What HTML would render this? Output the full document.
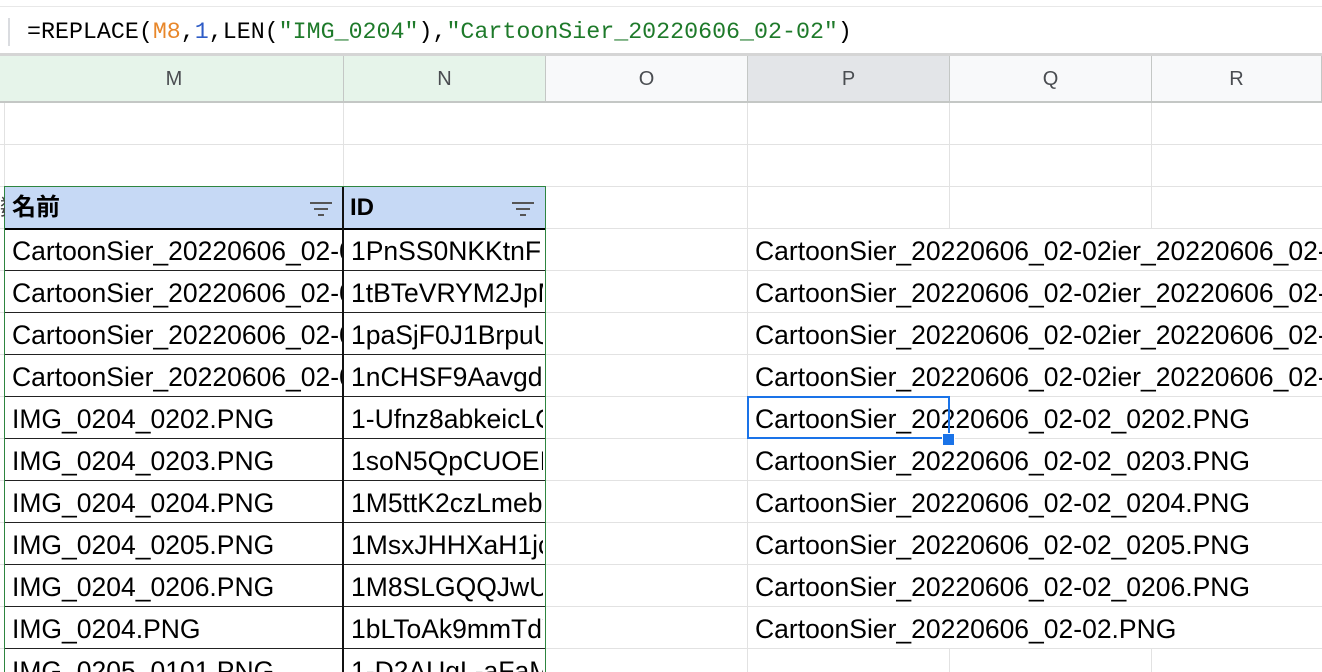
<!DOCTYPE html>
<html><head><meta charset="utf-8"><style>
html,body{margin:0;width:1322px;height:672px;overflow:hidden}
body{background:#fff;position:relative;font-family:"Liberation Sans","Noto Sans CJK JP",sans-serif}
.a{position:absolute}
.h{position:absolute;left:0;width:1322px;height:1px;background:#e2e2e2}
.v{position:absolute;width:1px;background:#e2e2e2}
.t{position:absolute;height:42px;line-height:44px;font-size:26.5px;color:#000;white-space:nowrap;overflow:hidden}
.ch{position:absolute;top:56px;height:46px;line-height:46px;text-align:center;font-size:20px;color:#4a4d51;border-right:1px solid #c4c7c5;box-sizing:border-box}
</style></head><body>
<div class="a" style="left:0;top:6px;width:1322px;height:1px;background:#e8e8e8"></div>
<div class="a" style="left:8px;top:18px;width:2px;height:28px;background:#dadce0"></div>
<div class="a" style="left:27px;top:14px;font-family:'Liberation Mono',monospace;font-size:23.3px;line-height:36px;color:#000;white-space:nowrap">=REPLACE(<span style="color:#e8872a">M8</span>,<span style="color:#2e5cc6">1</span>,LEN(<span style="color:#1e7a2a">"IMG_0204"</span>),<span style="color:#1e7a2a">"CartoonSier_20220606_02-02"</span>)</div>
<div class="a" style="left:0;top:53px;width:1322px;height:3px;background:#d5d5d5"></div>
<div class="ch" style="left:5px;width:339px;background:#e6f4ea">M</div>
<div class="ch" style="left:344px;width:202px;background:#e6f4ea">N</div>
<div class="ch" style="left:546px;width:202px;background:#f8f9fa">O</div>
<div class="ch" style="left:748px;width:202px;background:#e3e5e8">P</div>
<div class="ch" style="left:950px;width:202px;background:#f8f9fa">Q</div>
<div class="ch" style="left:1152px;width:170px;background:#f8f9fa">R</div>
<div class="a" style="left:0;top:56px;width:5px;height:46px;background:#e6f4ea"></div>
<div class="a" style="left:0;top:101px;width:1322px;height:2px;background:#c4c7c5"></div>
<div class="h" style="top:144px"></div><div class="h" style="top:186px"></div><div class="h" style="top:228px"></div>
<div class="h" style="top:270px"></div><div class="h" style="top:312px"></div><div class="h" style="top:354px"></div>
<div class="h" style="top:396px"></div><div class="h" style="top:438px"></div><div class="h" style="top:480px"></div>
<div class="h" style="top:522px"></div><div class="h" style="top:564px"></div><div class="h" style="top:606px"></div>
<div class="h" style="top:648px"></div>
<div class="v" style="left:747px;top:103px;height:569px"></div>
<div class="v" style="left:949px;top:103px;height:125px"></div>
<div class="v" style="left:949px;top:648px;height:24px"></div>
<div class="v" style="left:1151px;top:103px;height:125px"></div>
<div class="v" style="left:1151px;top:648px;height:24px"></div>
<div class="v" style="left:343px;top:103px;height:85px"></div>
<div class="v" style="left:4px;top:103px;height:85px"></div>
<div class="a" style="left:5px;top:187px;width:540px;height:41px;background:#c6d9f5"></div>
<div class="a" style="left:5px;top:228px;width:540px;height:2px;background:#000"></div>
<div class="a" style="left:5px;top:270px;width:540px;height:1px;background:#222"></div>
<div class="a" style="left:5px;top:312px;width:540px;height:1px;background:#222"></div>
<div class="a" style="left:5px;top:354px;width:540px;height:1px;background:#222"></div>
<div class="a" style="left:5px;top:396px;width:540px;height:1px;background:#222"></div>
<div class="a" style="left:5px;top:438px;width:540px;height:1px;background:#222"></div>
<div class="a" style="left:5px;top:480px;width:540px;height:1px;background:#222"></div>
<div class="a" style="left:5px;top:522px;width:540px;height:1px;background:#222"></div>
<div class="a" style="left:5px;top:564px;width:540px;height:1px;background:#222"></div>
<div class="a" style="left:5px;top:606px;width:540px;height:1px;background:#222"></div>
<div class="a" style="left:5px;top:648px;width:540px;height:1px;background:#222"></div>
<div class="a" style="left:342px;top:187px;width:2px;height:485px;background:#111"></div>
<div class="a" style="left:4px;top:186px;width:542px;height:490px;border:1.5px solid #2e8540;box-sizing:border-box"></div>
<div class="t" style="left:0;top:186px;width:5px;font-size:22px;color:#444">数</div>
<div class="t" style="left:12px;top:186px;font-weight:bold;font-size:24px">名前</div>
<div class="t" style="left:350px;top:186px;font-weight:bold;font-size:24px">ID</div>
<svg class="a" style="left:308px;top:200px" width="26" height="18"><path d="M2 3h22M6 9h14M10 15h6" stroke="#555" stroke-width="2"/></svg>
<svg class="a" style="left:510px;top:200px" width="26" height="18"><path d="M2 3h22M6 9h14M10 15h6" stroke="#555" stroke-width="2"/></svg>
<div class="t" style="left:12px;top:229px;width:330px">CartoonSier_20220606_02-02</div>
<div class="t" style="left:12px;top:271px;width:330px">CartoonSier_20220606_02-02</div>
<div class="t" style="left:12px;top:313px;width:330px">CartoonSier_20220606_02-02</div>
<div class="t" style="left:12px;top:355px;width:330px">CartoonSier_20220606_02-02</div>
<div class="t" style="left:12px;top:397px">IMG_0204_0202.PNG</div>
<div class="t" style="left:12px;top:439px">IMG_0204_0203.PNG</div>
<div class="t" style="left:12px;top:481px">IMG_0204_0204.PNG</div>
<div class="t" style="left:12px;top:523px">IMG_0204_0205.PNG</div>
<div class="t" style="left:12px;top:565px">IMG_0204_0206.PNG</div>
<div class="t" style="left:12px;top:607px">IMG_0204.PNG</div>
<div class="t" style="left:12px;top:649px">IMG_0205_0101.PNG</div>
<div class="t" style="left:351px;top:229px;width:192px">1PnSS0NKKtnFK</div>
<div class="t" style="left:351px;top:271px;width:192px">1tBTeVRYM2JpMx</div>
<div class="t" style="left:351px;top:313px;width:192px">1paSjF0J1BrpuUx</div>
<div class="t" style="left:351px;top:355px;width:192px">1nCHSF9Aavgdx</div>
<div class="t" style="left:351px;top:397px;width:192px">1-Ufnz8abkeicLCx</div>
<div class="t" style="left:351px;top:439px;width:192px">1soN5QpCUOEIx</div>
<div class="t" style="left:351px;top:481px;width:192px">1M5ttK2czLmebx</div>
<div class="t" style="left:351px;top:523px;width:192px">1MsxJHHXaH1jcx</div>
<div class="t" style="left:351px;top:565px;width:192px">1M8SLGQQJwUx</div>
<div class="t" style="left:351px;top:607px;width:192px">1bLToAk9mmTdYx</div>
<div class="t" style="left:351px;top:649px;width:192px">1-D2AUgL-aFaMx</div>
<div class="t" style="left:755px;top:229px;width:567px">CartoonSier_20220606_02-02ier_20220606_02-02</div>
<div class="t" style="left:755px;top:271px;width:567px">CartoonSier_20220606_02-02ier_20220606_02-02</div>
<div class="t" style="left:755px;top:313px;width:567px">CartoonSier_20220606_02-02ier_20220606_02-02</div>
<div class="t" style="left:755px;top:355px;width:567px">CartoonSier_20220606_02-02ier_20220606_02-02</div>
<div class="t" style="left:755px;top:397px">CartoonSier_20220606_02-02_0202.PNG</div>
<div class="t" style="left:755px;top:439px">CartoonSier_20220606_02-02_0203.PNG</div>
<div class="t" style="left:755px;top:481px">CartoonSier_20220606_02-02_0204.PNG</div>
<div class="t" style="left:755px;top:523px">CartoonSier_20220606_02-02_0205.PNG</div>
<div class="t" style="left:755px;top:565px">CartoonSier_20220606_02-02_0206.PNG</div>
<div class="t" style="left:755px;top:607px">CartoonSier_20220606_02-02.PNG</div>
<div class="a" style="left:747px;top:396px;width:203px;height:43px;border:2.5px solid #1a73e8;box-sizing:border-box"></div>
<div class="a" style="left:942px;top:433px;width:11px;height:11px;background:#1a73e8;border:1px solid #fff"></div>
</body></html>
